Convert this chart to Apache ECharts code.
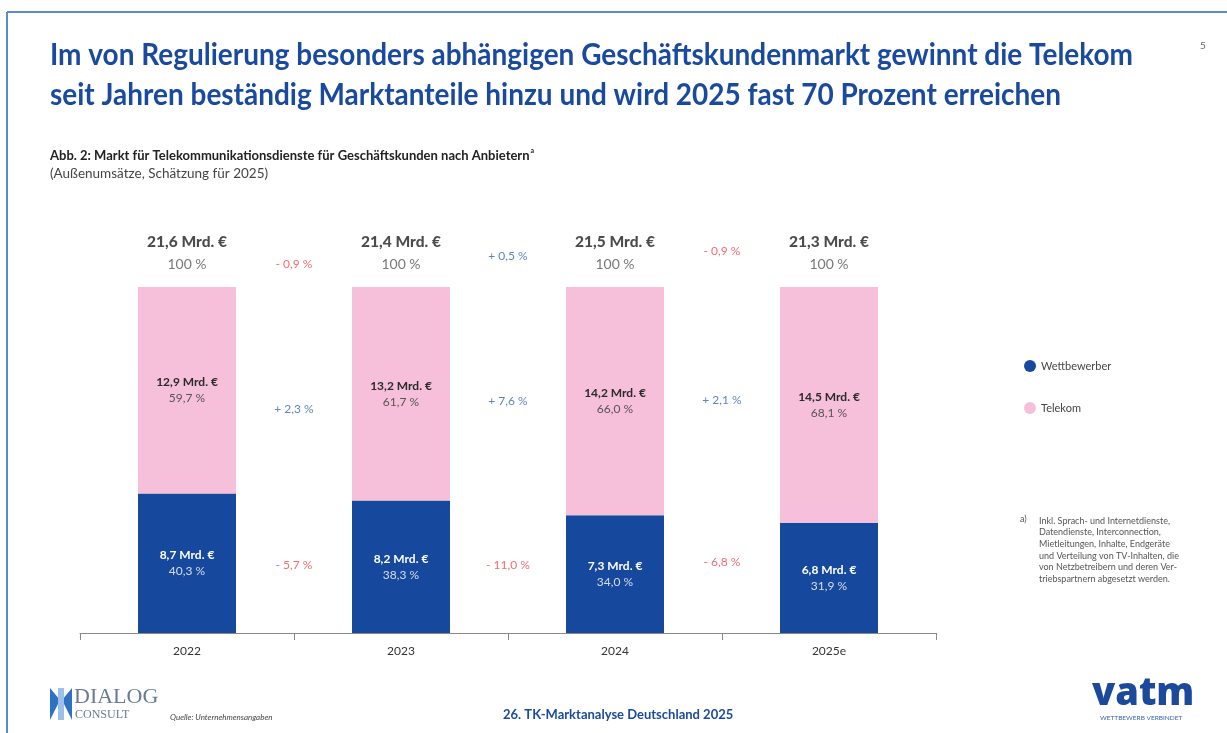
<!DOCTYPE html>
<html>
<head>
<meta charset="utf-8">
<script src="https://cdn.jsdelivr.net/npm/echarts@6/dist/echarts.min.js"></script>
<style>
  html, body { margin: 0; padding: 0; background: #fff; }
  #chart { width: 1227px; height: 733px; }
</style>
</head>
<body>
<div id="chart"></div>
<script>
// data
var categories = ['2022', '2023', '2024', '2025e'];
var wettbewerberPct = [40.3, 38.3, 34.0, 31.9];
var telekomPct = [59.7, 61.7, 66.0, 68.1];
var wettbewerberMrd = [8.7, 8.2, 7.3, 6.8];
var telekomMrd = [12.9, 13.2, 14.2, 14.5];
var totalMrd = [21.6, 21.4, 21.5, 21.3];
var totalChange = [-0.9, 0.5, -0.9];
var telekomChange = [2.3, 7.6, 2.1];
var wettbewerberChange = [-5.7, -11.0, -6.8];

// vertical level (in % of bar height) where the change labels sit
var totalChangeLevel = [106.6, 109.0, 110.4];
var telekomChangeLevel = [64.7, 67.1, 67.3];
var wettbewerberChangeLevel = [19.7, 19.7, 20.5];

var titleLines = [
    'Im von Regulierung besonders abhängigen Geschäftskundenmarkt gewinnt die Telekom',
    'seit Jahren beständig Marktanteile hinzu und wird 2025 fast 70 Prozent erreichen'
];
var footnote = [
    'Inkl. Sprach- und Internetdienste,',
    'Datendienste, Interconnection,',
    'Mietleitungen, Inhalte, Endgeräte',
    'und Verteilung von TV-Inhalten, die',
    'von Netzbetreibern und deren Ver-',
    'triebspartnern abgesetzt werden.'
];

var BLUE = '#16499d';
var PINK = '#f7c0da';
var FONT = 'Lato, "Open Sans", sans-serif';
var TITLE_FONT = 'bold 31px ' + FONT;

function de(v) { return Math.abs(v).toFixed(1).replace('.', ','); }

// the original uses a condensed face; squeeze Lato to the same line width
var ctx = document.createElement('canvas').getContext('2d');
ctx.font = TITLE_FONT;
var titleScale = 1083 / ctx.measureText(titleLines[0]).width;

function changeSeries(values, levels) {
    return {
        type: 'scatter',
        xAxisIndex: 1,
        symbolSize: 0,
        clip: false,
        silent: true,
        itemStyle: { color: 'transparent' },
        data: values.map((v, i) => ({
            value: [i + 1, levels[i], v],
            label: { color: v < 0 ? '#f0474f' : '#3a63b4' }
        })),
        label: {
            show: true,
            position: 'inside',
            fontFamily: FONT,
            fontSize: 12,
            formatter: p => (p.value[2] < 0 ? '- ' : '+ ') + de(p.value[2]) + ' %'
        }
    };
}

var chart = echarts.init(document.getElementById('chart'));

var graphics = [
    // page frame
    { type: 'line', shape: { x1: 7, y1: 12, x2: 1227, y2: 12 }, style: { stroke: '#5a8ad2', lineWidth: 2 } },
    { type: 'line', shape: { x1: 7, y1: 12, x2: 7, y2: 733 }, style: { stroke: '#5a8ad2', lineWidth: 2 } },
    // title
    { type: 'text', x: 50, y: 39, scaleX: titleScale, style: { text: titleLines[0], font: TITLE_FONT, fill: '#1a4a9f' } },
    { type: 'text', x: 50, y: 79, scaleX: titleScale, style: { text: titleLines[1], font: TITLE_FONT, fill: '#1a4a9f' } },
    { type: 'text', left: 1200, top: 41, style: { text: '5', font: '10px ' + FONT, fill: '#666' } },
    // subtitle
    { type: 'text', left: 50, top: 147, style: {
        text: '{b|Abb. 2: Markt für Telekommunikationsdienste für Geschäftskunden nach Anbietern}{s|a}',
        rich: {
            b: { font: 'bold 13px ' + FONT, fill: '#222', lineHeight: 18 },
            s: { font: 'bold 7px ' + FONT, fill: '#222', verticalAlign: 'top', lineHeight: 18, padding: [0, 0, 8, 1] }
        }
    } },
    { type: 'text', left: 50, top: 167, style: { text: '(Außenumsätze, Schätzung für 2025)', font: '13.5px ' + FONT, fill: '#444' } },
    // footnote
    { type: 'text', left: 1020, top: 515, style: { text: 'a)', font: '9px ' + FONT, fill: '#555' } },
    { type: 'text', left: 1039, top: 515, style: { text: footnote.join('\n'), font: '9px ' + FONT, fill: '#555', lineHeight: 11.6 } },
    // footer: Dialog Consult
    { type: 'polygon', shape: { points: [[50, 688], [60, 700], [50, 720]] }, style: { fill: '#2f72c4' } },
    { type: 'polygon', shape: { points: [[72, 688], [62, 700], [72, 720]] }, style: { fill: '#2f72c4' } },
    { type: 'rect', shape: { x: 58, y: 688, width: 6, height: 32 }, style: { fill: '#9cc0e8' } },
    { type: 'text', left: 74, top: 686, style: { text: 'DIALOG', font: '22px "Liberation Serif", "DejaVu Serif", serif', fill: '#6b7a92' } },
    { type: 'text', left: 75, top: 709, style: { text: 'CONSULT', font: '12px "Liberation Serif", "DejaVu Serif", serif', fill: '#6b7a92' } },
    { type: 'text', left: 170, top: 713, style: { text: 'Quelle: Unternehmensangaben', font: 'italic 8px ' + FONT, fill: '#444' } },
    { type: 'text', left: 503, top: 708, style: { text: '26. TK-Marktanalyse Deutschland 2025', font: 'bold 13px ' + FONT, fill: '#1a4a9f' } },
    // footer: vatm
    { type: 'text', left: 1092, top: 675, style: { text: 'vatm', font: '800 38px "Open Sans", ' + FONT, fill: '#1b4a9c' } },
    { type: 'text', left: 1100, top: 714, style: { text: 'WETTBEWERB VERBINDET', font: '6.5px ' + FONT, fill: '#3a63b4' } }
];

chart.setOption({
    animation: false,
    textStyle: { fontFamily: FONT },
    graphic: graphics,
    legend: {
        orient: 'vertical',
        left: 1019,
        top: 355,
        itemGap: 30,
        itemWidth: 12,
        itemHeight: 12,
        icon: 'circle',
        textStyle: { fontSize: 11, color: '#444', fontFamily: FONT },
        data: ['Wettbewerber', 'Telekom']
    },
    grid: { left: 80, right: 291, top: 287, bottom: 100 },
    xAxis: [{
        type: 'category',
        data: categories,
        axisLine: { lineStyle: { color: '#888' } },
        axisTick: { show: true, length: 7, lineStyle: { color: '#888' } },
        axisLabel: { color: '#333', fontSize: 12, margin: 12, fontFamily: FONT }
    }, {
        type: 'value',
        min: 0,
        max: 4,
        show: false
    }],
    yAxis: { type: 'value', min: 0, max: 100, show: false },
    series: [{
        name: 'Wettbewerber',
        type: 'bar',
        stack: 'total',
        barWidth: 98,
        data: wettbewerberPct,
        itemStyle: { color: BLUE },
        label: {
            show: true,
            position: 'inside',
            formatter: p => '{a|' + de(wettbewerberMrd[p.dataIndex]) + ' Mrd. €}\n{b|' + de(p.value) + ' %}',
            rich: {
                a: { fontWeight: 'bold', fontSize: 12, color: '#fff', lineHeight: 16, fontFamily: FONT },
                b: { fontSize: 12, color: '#d6dcec', lineHeight: 16, fontFamily: FONT }
            }
        }
    }, {
        name: 'Telekom',
        type: 'bar',
        stack: 'total',
        barWidth: 98,
        data: telekomPct,
        itemStyle: { color: PINK },
        label: {
            show: true,
            position: 'inside',
            formatter: p => '{a|' + de(telekomMrd[p.dataIndex]) + ' Mrd. €}\n{b|' + de(p.value) + ' %}',
            rich: {
                a: { fontWeight: 'bold', fontSize: 12, color: '#2a2a2a', lineHeight: 16, fontFamily: FONT },
                b: { fontSize: 12, color: '#555', lineHeight: 16, fontFamily: FONT }
            }
        }
    }, {
        name: 'Gesamt',
        type: 'scatter',
        symbolSize: 0,
        clip: false,
        silent: true,
        data: totalMrd.map(() => 100),
        itemStyle: { color: 'transparent' },
        label: {
            show: true,
            position: 'top',
            distance: 12,
            formatter: p => '{a|' + de(totalMrd[p.dataIndex]) + ' Mrd. €}\n{b|100 %}',
            rich: {
                a: { fontWeight: 900, fontSize: 15.5, color: '#1e1e1e', lineHeight: 22, fontFamily: FONT },
                b: { fontSize: 14, color: '#555', lineHeight: 22, fontFamily: FONT }
            }
        }
    },
    changeSeries(totalChange, totalChangeLevel),
    changeSeries(telekomChange, telekomChangeLevel),
    changeSeries(wettbewerberChange, wettbewerberChangeLevel)
    ]
});
</script>
</body>
</html>
